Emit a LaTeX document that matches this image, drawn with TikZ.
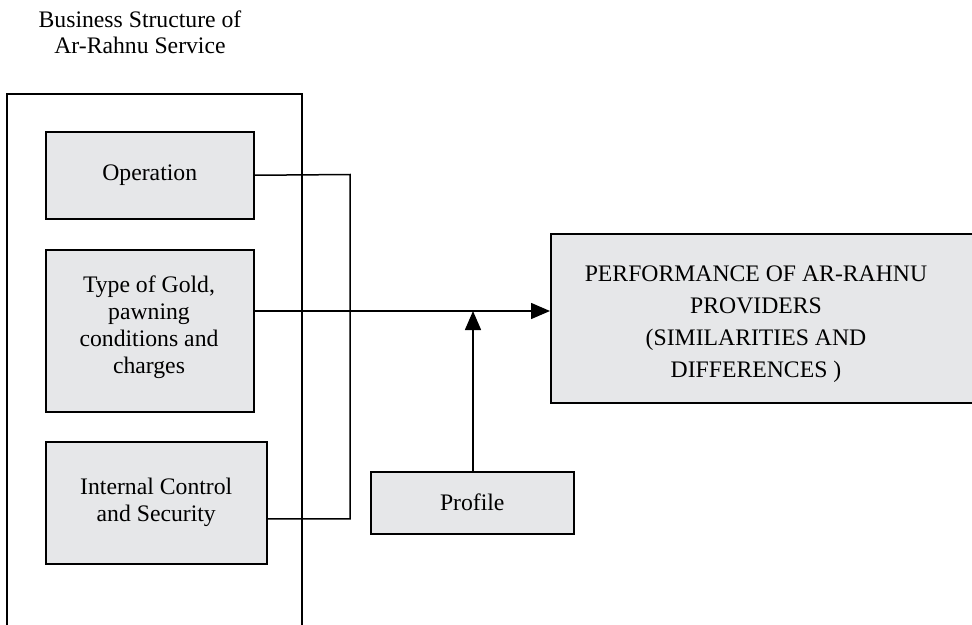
\documentclass[tikz,border=0pt]{standalone}
\usepackage{fontspec}
\setmainfont{Liberation Serif}
\usetikzlibrary{arrows.meta}
\definecolor{boxgray}{HTML}{E6E7E9}
\tikzset{
  boxnode/.style={draw, line width=1.5pt, fill=boxgray, inner sep=0pt, align=center, anchor=north west,
    font=\fontsize{23.7}{27}\selectfont},
  conn/.style={line width=1.5pt},
  arr/.style={line width=1.5pt, -{Triangle[length=19pt,width=16pt]}},
}
\begin{document}
\begin{tikzpicture}[x=1pt,y=-1pt]
\useasboundingbox (0,0) rectangle (972,624);
\clip (0,0) rectangle (972,624);
\fill[white] (0,0) rectangle (972,624);
\node[align=center, font=\fontsize{23.7}{26}\selectfont] (title) at (140,32) {Business Structure of\\Ar-Rahnu Service};
\draw[line width=1.5pt] (7,94) rectangle (302,640);
\node[boxnode, minimum width=208pt, minimum height=87pt] (op) at (45,131) {Operation};
\node[boxnode, minimum width=208pt, minimum height=162pt] (type) at (45,249) {};
\node[align=center, font=\fontsize{23.7}{27}\selectfont, inner sep=0pt] (typetext) at (149,327) {Type of Gold,\\pawning\\conditions and\\charges};
\node[boxnode, minimum width=221pt, minimum height=122pt] (int) at (45,441) {Internal Control\\and Security};
\node[boxnode, minimum width=520pt, minimum height=169pt] (perf) at (550,233) {};
\node[align=center, font=\fontsize{23.7}{32}\selectfont, inner sep=0pt] (perftext) at (756,324) {PERFORMANCE OF AR-RAHNU\\PROVIDERS\\(SIMILARITIES AND\\DIFFERENCES )};
\node[boxnode, minimum width=203pt, minimum height=62pt] (prof) at (370,471) {Profile};
\coordinate (j) at (350,174.5);
\coordinate (ta) at (type.east |- 0,311);
\coordinate (ib) at ([yshift=-16pt]int.east);
\draw[conn] (op.east) -- (j) |- (ib);
\draw[arr] (ta) -- (perf.west |- ta);
\draw[arr] (prof.north -| 473,0) -- (473,311);
\end{tikzpicture}
\end{document}
